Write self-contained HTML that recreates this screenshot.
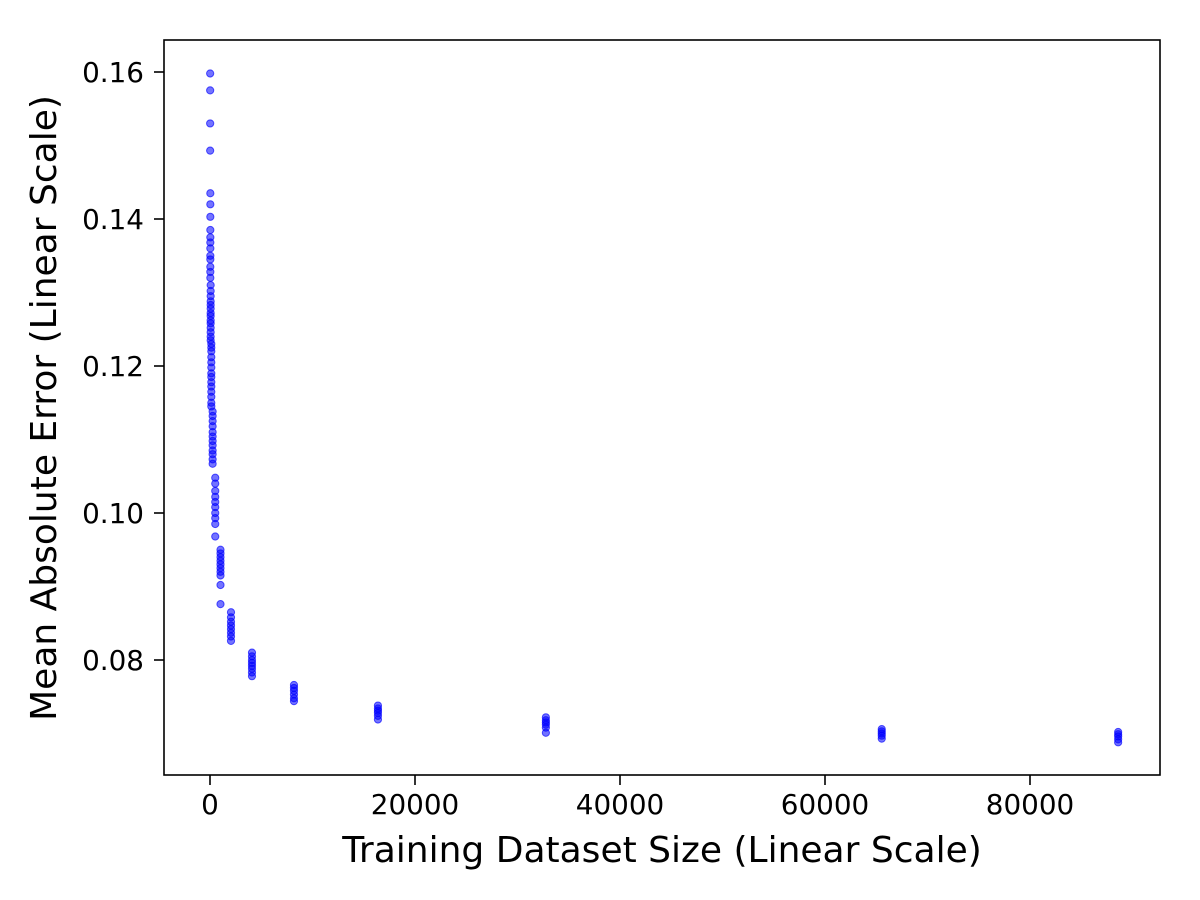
<!DOCTYPE html>
<html><head><meta charset="utf-8"><style>
body{margin:0;background:#fff;}
svg{display:block;font-family:"DejaVu Sans","Liberation Sans",sans-serif;}
</style></head><body>
<svg id="chart" width="1200" height="900">
<rect x="0" y="0" width="1200" height="900" fill="#fff"/>
<g id="marks"></g>
<g id="axes"></g>
<rect x="164" y="40" width="996" height="735" fill="none" stroke="#000" stroke-width="1.6"/>
<text x="662" y="862" font-size="36" text-anchor="middle">Training Dataset Size (Linear Scale)</text>
<text transform="translate(56,408) rotate(-90)" font-size="36" text-anchor="middle">Mean Absolute Error (Linear Scale)</text>
</svg>
<script>
const sizes = [16,16,16,16,32,32,32,32,32,32,32,32,32,32,32,32,64,64,64,64,64,64,64,64,64,64,64,64,64,64,128,128,128,128,128,128,128,128,128,128,128,128,128,128,256,256,256,256,256,256,256,256,256,256,256,256,
512,512,512,512,512,512,512,512,512,512,1024,1024,1024,1024,1024,1024,1024,1024,1024,1024,
2048,2048,2048,2048,2048,2048,2048,2048,4096,4096,4096,4096,4096,4096,4096,4096,8192,8192,8192,8192,8192,8192,
16384,16384,16384,16384,16384,16384,32768,32768,32768,32768,32768,32768,65536,65536,65536,65536,65536,88600,88600,88600,88600,88600];
const mae = [0.1598,0.1575,0.1530,0.1493,0.1435,0.1420,0.1403,0.1385,0.1375,0.1368,0.1360,0.1350,0.1345,0.1335,0.1328,0.1320,0.1310,0.1302,0.1295,0.1288,0.1283,0.1278,0.1272,0.1268,0.1262,0.1258,0.1252,0.1246,0.1240,0.1235,0.1230,0.1225,0.1220,0.1212,0.1205,0.1198,0.1190,0.1185,0.1178,0.1172,0.1165,0.1158,0.1150,0.1145,0.1138,0.1132,0.1125,0.1118,0.1110,0.1104,0.1098,0.1092,0.1085,0.1080,0.1073,0.1067,
0.1048,0.1040,0.1030,0.1022,0.1015,0.1008,0.1000,0.0993,0.0985,0.0968,0.0950,0.0945,0.0940,0.0935,0.0930,0.0925,0.0920,0.0915,0.0902,0.0876,
0.0865,0.0858,0.0852,0.0847,0.0842,0.0837,0.0832,0.0826,0.0810,0.0805,0.0800,0.0796,0.0792,0.0788,0.0783,0.0778,0.0766,0.0762,0.0758,0.0753,0.0748,0.0744,
0.0738,0.0734,0.0731,0.0728,0.0724,0.0719,0.0722,0.0718,0.0715,0.0712,0.0708,0.0701,0.0706,0.0703,0.0700,0.0697,0.0693,0.0702,0.0699,0.0696,0.0692,0.0688];
const xTicks = [0,20000,40000,60000,80000];
const xTickLabels = ["0","20000","40000","60000","80000"];
const yTicks = [0.08,0.10,0.12,0.14,0.16];
const yTickLabels = ["0.08","0.10","0.12","0.14","0.16"];
const NS="http://www.w3.org/2000/svg";
function xs(v){return 210+v*(1030-210)/80000;}
function ys(v){return 660-(v-0.08)*(660-72)/0.08;}
const marks=document.getElementById('marks');
for(let i=0;i<sizes.length;i++){
  const c=document.createElementNS(NS,'circle');
  c.setAttribute('cx',xs(sizes[i]));c.setAttribute('cy',ys(mae[i]));c.setAttribute('r',3.6);
  c.setAttribute('fill','rgba(0,0,255,0.55)');c.setAttribute('stroke','rgba(0,0,255,0.65)');c.setAttribute('stroke-width','1');
  
  
  marks.appendChild(c);
}
const axes=document.getElementById('axes');
xTicks.forEach((t,i)=>{
  const l=document.createElementNS(NS,'line');
  l.setAttribute('x1',xs(t));l.setAttribute('x2',xs(t));l.setAttribute('y1',775);l.setAttribute('y2',785);l.setAttribute('stroke','#000');l.setAttribute('stroke-width','1.6');
  
  
  axes.appendChild(l);
  const tx=document.createElementNS(NS,'text');
  tx.setAttribute('x',xs(t));tx.setAttribute('y',814);tx.setAttribute('font-size','27.8');tx.setAttribute('text-anchor','middle');
  tx.textContent=xTickLabels[i];
  
  
  axes.appendChild(tx);
});
yTicks.forEach((t,i)=>{
  const l=document.createElementNS(NS,'line');
  l.setAttribute('x1',154);l.setAttribute('x2',164);l.setAttribute('y1',ys(t));l.setAttribute('y2',ys(t));l.setAttribute('stroke','#000');l.setAttribute('stroke-width','1.6');
  
  
  axes.appendChild(l);
  const tx=document.createElementNS(NS,'text');
  tx.setAttribute('x',144);tx.setAttribute('y',ys(t)+10);tx.setAttribute('font-size','27.8');tx.setAttribute('text-anchor','end');
  tx.textContent=yTickLabels[i];
  
  
  axes.appendChild(tx);
});
</script>
</body></html>
